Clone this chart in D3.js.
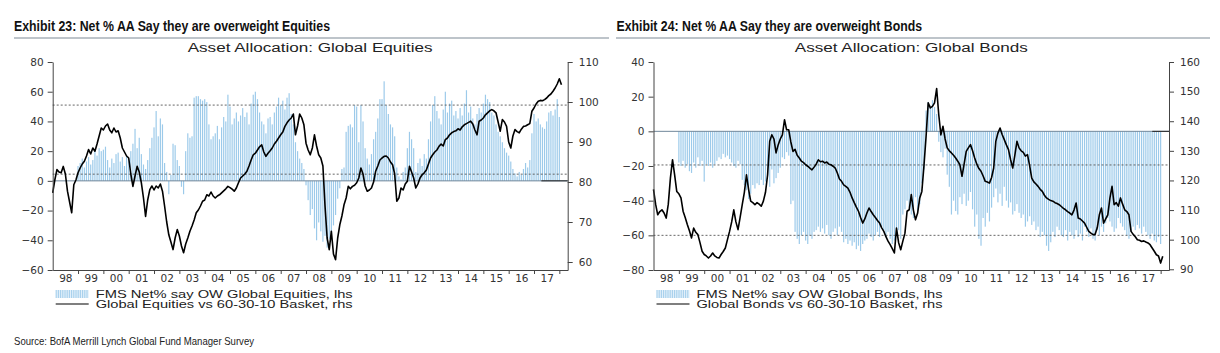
<!DOCTYPE html>
<html>
<head>
<meta charset="utf-8">
<script src="https://cdn.jsdelivr.net/npm/d3@7"></script>
<style>
  body { margin: 0; background: #fff; }
  svg text { font-family: "Liberation Sans", Arial, sans-serif; fill: #222; }
  .tick text { font-family: "DejaVu Sans", sans-serif; font-size: 10.5px; fill: #333; }
</style>
</head>
<body>
<svg id="chart" width="1220" height="353"></svg>
<script>
// monthly values, Jan 1998 .. Feb 2018 (rhs)
var eqLine = [
  77.3, 80.5, 83.1, 82.5, 82.3, 83.9, 82, 77.7, 75, 72.3, 79.3, 80.5,
  82.3, 83.5, 84.5, 85.2, 86.5, 88.1, 87, 88.5, 87.7, 89.5, 91.5, 93.5,
  93, 94, 94.5, 93, 92.3, 93.5, 92.5, 92.8, 91, 88.5, 87.5, 86.5,
  86, 82, 78.9, 81.5, 83.9, 82.5, 79.8, 76, 71.4, 75.5, 78.1, 79,
  78, 79, 78.5, 79.5, 77.7, 74, 70, 66.8, 65, 63.1, 66, 68.1,
  66.5, 64, 62.3, 64.5, 66, 67.7, 69, 70.5, 72.3, 73, 74, 75.2,
  75.5, 76.8, 76.5, 77.5, 76.5, 76, 76.5, 76.8, 77.3, 77.8, 78.3, 78.9,
  78.6, 78.2, 77.7, 78.5, 79.8, 81, 81.5, 82, 82.7, 84, 85.5, 86.8,
  87.2, 88, 88.8, 89.3, 87.5, 86.4, 87.2, 87.8, 88.5, 89.5, 90.2, 91,
  91.8, 92.5, 93.9, 94.8, 95.5, 96, 97, 91.8, 94, 97, 96, 94.3,
  89.7, 88, 86.8, 88.5, 91.8, 89, 86.8, 86, 84, 74, 66, 63.1,
  67.7, 62, 60.6, 66, 69.3, 71.5, 74.3, 76, 78.9, 78.3, 78.9, 79.2,
  79.8, 81, 83.5, 82, 79, 77.7, 78, 78.5, 80, 82.7, 84, 85.5,
  86, 86.4, 86.5, 86, 85, 84.3, 82, 75.2, 76, 78.5, 78, 79.5,
  80.2, 83.9, 82.5, 81, 78.5, 79.5, 81, 81.8, 82.3, 83, 84.5, 86,
  86.8, 87.5, 88, 88.9, 89.5, 89, 90.6, 91, 91.8, 92.3, 92.6, 92.8,
  93.3, 93, 93.8, 94.3, 94.6, 94.9, 95.2, 94.5, 93, 91.8, 95.2, 95.5,
  96, 96.8, 97.3, 97.8, 98.1, 97.8, 97.3, 95, 92.7, 95.6, 95, 93.9,
  90, 88.5, 91.5, 93.1, 92.6, 92.3, 93.2, 93.9, 94, 94.3, 94.6, 97.7,
  98.5, 99.5, 100.2, 100.4, 100.3, 100.6, 101, 101.6, 102, 102.7, 103.5, 104.5,
  105.8, 104.3
];

// monthly FMS net %, Jan 1999 .. Jan 2018 (lhs)
var eqBars = [
  10, 12, 15, 9, 13, 16, 11, 14, 20, 17, 22, 20,
  21, 23, 14, 9, 15, 12, 18, 19, 13, 16, 10, 17,
  15, 20, 25, 35, 22, 29, 18, 11, 8, 14, 22, 29,
  36, 47, 30, 42, 38, 12, 6, -9, 4, 25, 24, 14,
  10, -4, -9, 20, 32, 29, 30, 56, 57, 57, 55, 54,
  55, 53, 38, 28, 30, 32, 37, 28, 36, 43, 40, 58,
  50, 38, 42, 46, 40, 44, 49, 43, 46, 38, 52, 58,
  60, 55, 46, 40, 38, 32, 42, 43, 38, 46, 50, 56,
  51, 54, 48, 56, 59, 45, 38, 26, 20, 15, 12, 8,
  -3, -13, -23, -19, -32, -40, -28, -34, -41, -37, -45, -39,
  -40, -30, -23, -12, -5, 8, 9, 33, 37, 38, 36, 51,
  50, 26, 51, 40, 22, 15, 11, 18, 28, 33, 42, 55,
  55, 67, 51, 45, 38, 36, 30, 9, 3, 1, 6, 9,
  22, 33, 28, 22, 6, 12, 15, 10, 18, 15, 28, 40,
  51, 57, 47, 42, 38, 48, 60, 46, 52, 54, 44, 47,
  42, 49, 44, 52, 61, 46, 50, 42, 38, 45, 49, 46,
  52, 58, 55, 53, 46, 44, 38, 33, 30, 26, 22, 19,
  17, 13, 8, 5, 3, 6, 4, 8, 12, 9, 14, 32,
  45, 40, 42, 38, 36, 35, 40, 46, 47, 44, 48, 55,
  43
];

var bdLine = [
  117, 112, 108.4, 109.5, 110.1, 109, 107.3, 112, 120.8, 127, 121.9, 116.3,
  115.5, 114.1, 109.6, 107.5, 105.1, 103, 100.6, 103.9, 102.5, 101.7, 99, 96.1,
  95, 94.5, 93.8, 94.5, 95.5, 94.5, 94, 93.8, 95, 96, 97.2, 100,
  102.8, 106, 110.1, 106, 103.4, 107.5, 111.8, 116, 121.9, 117, 113, 112.5,
  111.8, 112.5, 112, 111.3, 113, 116, 121.9, 133.2, 135.4, 134, 129.3, 132,
  134, 135.4, 140.5, 137.1, 137.1, 133, 129.8, 130.5, 128.5, 127.6, 126.5, 126,
  125.3, 124.8, 124.2, 123.6, 124.5, 125.5, 127, 126.3, 126.5, 125.9, 126.2, 125.5,
  125.3, 124.8, 124.2, 122.5, 120.5, 119.7, 118.5, 118, 117.4, 116, 114.1, 112.5,
  111, 109.6, 107.5, 105.6, 107, 109, 110.7, 109.5, 108.4, 107.5, 106.5, 105.6,
  104, 102.8, 101, 99.5, 98.3, 97, 95.5, 103.9, 99, 96.6, 99.5, 102.2,
  109.6, 110.1, 115.2, 110, 106.7, 109, 114.1, 116.3, 125, 134.9, 146.2, 144.5,
  145, 146.2, 151, 142.2, 135.4, 138.3, 134, 131, 130, 129.3, 128.5, 127.6,
  126.5, 125.3, 121.4, 125.5, 129.8, 131, 132.1, 130, 127.6, 125.5, 124, 123.1,
  121.5, 119.7, 119.5, 119.1, 121, 124.2, 133.2, 136, 137.7, 135.5, 133.8, 132,
  130.4, 127, 124.2, 128.5, 133.2, 131, 130, 129.5, 128.2, 128.7, 125, 120.8,
  119.5, 118.8, 118, 117, 116.3, 115, 114.1, 113.6, 113.2, 113, 112.5, 112.2,
  111.8, 111.2, 110.6, 110.1, 109.5, 109, 108.4, 110, 112.4, 107.3, 107, 106.3,
  105.6, 104.2, 102.8, 102.2, 101.7, 101.8, 104, 108.4, 110.7, 105.6, 107, 108.4,
  114, 118, 111.8, 112.5, 111.3, 114.1, 112, 110.1, 109.5, 108.4, 102.8, 101.8,
  101, 100, 99.8, 99.4, 99.6, 99.2, 98.9, 98.3, 97.2, 96.1, 94.9, 94.5,
  92.1, 94.4
];

var bdBars = [
  -18, -20, -17, -21, -19, -23, -24, -18, -21, -15, -20, -17,
  -29, -19, -20, -18, -21, -19, -17, -15, -16, -13, -15, -14,
  -16, -18, -20, -21, -17, -19, -28, -31, -34, -39, -36, -31,
  -33, -30, -31, -28, -31, -29, -25, -32, -22, -30, -27, -24,
  -21, -15, -16, -12, -14, -42, -40, -58, -62, -65, -60, -58,
  -63, -65, -60, -62, -58, -57, -55, -58, -56, -59, -54, -60,
  -62, -58, -56, -60, -55, -58, -64, -62, -65, -63, -66, -64,
  -68, -66, -69, -65, -63, -62, -59, -61, -63, -60, -58, -61,
  -55, -57, -61, -58, -62, -65, -63, -60, -57, -62, -48, -45,
  -40, -44, -48, -50, -38, -46, -42, -30, -22, 12, 17, 15,
  18, 14, 10, -6, -12, -15, -10, -25, -32, -48, -40, -46,
  -48, -38, -42, -36, -43, -40, -35, -45, -55, -48, -62, -66,
  -50, -55, -47, -52, -44, -38, -33, -41, -36, -43, -32, -40,
  -44, -41, -48, -46, -42, -47, -50, -48, -55, -52, -49, -54,
  -52, -57, -55, -61, -58, -60, -66, -69, -64, -58, -61, -55,
  -57, -60, -61, -57, -63, -58, -60, -62, -57, -61, -59, -63,
  -55, -58, -61, -56, -62, -63, -57, -60, -55, -58, -53, -50,
  -52, -55, -58, -56, -50, -53, -55, -57, -60, -62, -58, -55,
  -57, -54, -56, -59, -55, -58, -60, -62, -59, -63, -64, -61,
  -65
];

var yearLabels = ["98", "99", "00", "01", "02", "03", "04", "05", "06", "07",
  "08", "09", "10", "11", "12", "13", "14", "15", "16", "17"];
var lineStart = 1998, barStart = 1999;

var panels = [
  {
    x0: 52.7, x1: 567.7,
    title: "Exhibit 23: Net % AA Say they are overweight Equities", titleX: 14, titleW: 316, rule: [14, 609],
    subtitle: "Asset Allocation: Global Equities", subW: 245,
    lhs: [-60, 80], lhsTicks: d3.range(-60, 81, 20),
    rhs: [58, 110], rhsTicks: d3.range(60, 111, 10),
    bands: [51, 4.5], tailFrom: 2017.29,
    line: eqLine, bars: eqBars,
    legend: ["FMS Net% say OW Global Equities, lhs", "Global Equities vs 60-30-10 Basket, rhs"], legW: 257
  },
  {
    x0: 653.5, x1: 1169,
    title: "Exhibit 24: Net % AA Say they are overweight Bonds", titleX: 616.5, titleW: 305.5, rule: [616, 1210],
    subtitle: "Asset Allocation: Global Bonds", subW: 233,
    lhs: [-80, 40], lhsTicks: d3.range(-80, 41, 20),
    rhs: [89.76, 160], rhsTicks: d3.range(90, 161, 10),
    bands: [-19.4, -60], tailFrom: 2017.67,
    line: bdLine, bars: bdBars,
    legend: ["FMS Net% say OW Global Bonds, lhs", "Global Bonds vs 60-30-10 Basket, rhs"], legW: 246
  }
];

var svg = d3.select("#chart");
var plotTop = 62, plotBottom = 270;

panels.forEach(function(p) {
  var g = svg.append("g");

  var x = d3.scaleLinear().domain([1998, 2018.33]).range([p.x0, p.x1]);
  var yL = d3.scaleLinear().domain(p.lhs).range([plotBottom, plotTop]);
  var yR = d3.scaleLinear().domain(p.rhs).range([plotBottom, plotTop]);

  // header
  g.append("text")
    .attr("x", p.titleX).attr("y", 31)
    .attr("textLength", p.titleW).attr("lengthAdjust", "spacingAndGlyphs")
    .style("font-family", '"Liberation Sans Narrow", "Arial Narrow", "Liberation Sans", sans-serif')
    .style("font-weight", "bold").style("font-size", "14.5px").style("fill", "#111")
    .text(p.title);
  g.append("line")
    .attr("x1", p.rule[0]).attr("x2", p.rule[1]).attr("y1", 38).attr("y2", 38)
    .attr("stroke", "#7d8995").attr("stroke-width", 1);
  g.append("text")
    .attr("x", (p.x0 + p.x1) / 2 - p.subW / 2).attr("y", 52.3)
    .attr("textLength", p.subW).attr("lengthAdjust", "spacingAndGlyphs")
    .style("font-size", "12.5px")
    .text(p.subtitle);

  // bars: thin monthly lines
  var monthW = x(1998 + 1 / 12) - x(1998);
  g.append("g").selectAll("rect")
    .data(p.bars)
    .join("rect")
    .attr("x", function(d, i) { return x(barStart + i / 12) - monthW * 0.28; })
    .attr("width", monthW * 0.56)
    .attr("y", function(d) { return Math.min(yL(d), yL(0)); })
    .attr("height", function(d) { return Math.abs(yL(d) - yL(0)); })
    .attr("fill", "#9ccaea");

  // reference lines
  g.append("line")
    .attr("x1", p.x0).attr("x2", p.x1).attr("y1", yL(0)).attr("y2", yL(0))
    .attr("stroke", "#70879a").attr("stroke-width", 1);
  g.append("line")
    .attr("x1", x(p.tailFrom)).attr("x2", p.x1).attr("y1", yL(0)).attr("y2", yL(0))
    .attr("stroke", "#222").attr("stroke-width", 1);
  g.selectAll(".band")
    .data(p.bands)
    .join("line")
    .attr("class", "band")
    .attr("x1", p.x0).attr("x2", p.x1)
    .attr("y1", function(d) { return yL(d); }).attr("y2", function(d) { return yL(d); })
    .attr("stroke", "#555").attr("stroke-width", 0.9).attr("stroke-dasharray", "2,2");

  // rhs line
  var line = d3.line()
    .x(function(d, i) { return x(lineStart + i / 12); })
    .y(function(d) { return yR(d); });
  g.append("path")
    .datum(p.line)
    .attr("d", line)
    .attr("fill", "none")
    .attr("stroke", "#000")
    .attr("stroke-width", 1.6)
    .attr("stroke-linejoin", "round");

  // axes
  var axL = g.append("g").attr("transform", "translate(" + p.x0 + ",0)")
    .call(d3.axisLeft(yL).tickValues(p.lhsTicks).tickSize(5).tickPadding(4).tickSizeOuter(0));
  var axR = g.append("g").attr("transform", "translate(" + p.x1 + ",0)")
    .call(d3.axisRight(yR).tickValues(p.rhsTicks).tickSize(5).tickPadding(6).tickSizeOuter(0));
  var axB = g.append("g").attr("transform", "translate(0," + plotBottom + ")")
    .call(d3.axisBottom(x).tickValues(d3.range(1999, 2019)).tickSize(4).tickSizeOuter(0).tickFormat(""));
  var axBl = g.append("g").attr("transform", "translate(0," + plotBottom + ")")
    .call(d3.axisBottom(x).tickValues(d3.range(1998.5, 2018, 1)).tickSize(0).tickPadding(4.5)
      .tickFormat(function(d, i) { return yearLabels[i]; }));
  axBl.select(".domain").remove();
  [axL, axR, axB].forEach(function(a) {
    a.selectAll(".domain, .tick line").attr("stroke", "#444");
  });

  // legend
  var lg = g.append("g").attr("transform", "translate(" + p.x0 + ",0)");
  lg.append("rect").attr("x", 3).attr("y", 290).attr("width", 33).attr("height", 8).attr("fill", "#e2f0fa");
  lg.selectAll(".sw")
    .data(d3.range(3.5, 36, 2.2))
    .join("line")
    .attr("class", "sw")
    .attr("x1", function(d) { return d; }).attr("x2", function(d) { return d; })
    .attr("y1", 290).attr("y2", 298)
    .attr("stroke", "#9ccaea").attr("stroke-width", 0.9);
  lg.append("line").attr("x1", 3).attr("x2", 36).attr("y1", 304).attr("y2", 304)
    .attr("stroke", "#000").attr("stroke-width", 1.2);
  lg.selectAll(".lt")
    .data(p.legend)
    .join("text")
    .attr("class", "lt")
    .attr("x", 43)
    .attr("y", function(d, i) { return 297.7 + i * 9.8; })
    .attr("textLength", p.legW).attr("lengthAdjust", "spacingAndGlyphs")
    .style("font-size", "10.5px")
    .text(function(d) { return d; });
});

svg.append("text")
  .attr("x", 14).attr("y", 345)
  .attr("textLength", 240).attr("lengthAdjust", "spacingAndGlyphs")
  .style("font-family", '"Liberation Sans Narrow", "Arial Narrow", "Liberation Sans", sans-serif')
  .style("font-size", "10.5px").style("fill", "#222")
  .text("Source: BofA Merrill Lynch Global Fund Manager Survey");
</script>
</body>
</html>
